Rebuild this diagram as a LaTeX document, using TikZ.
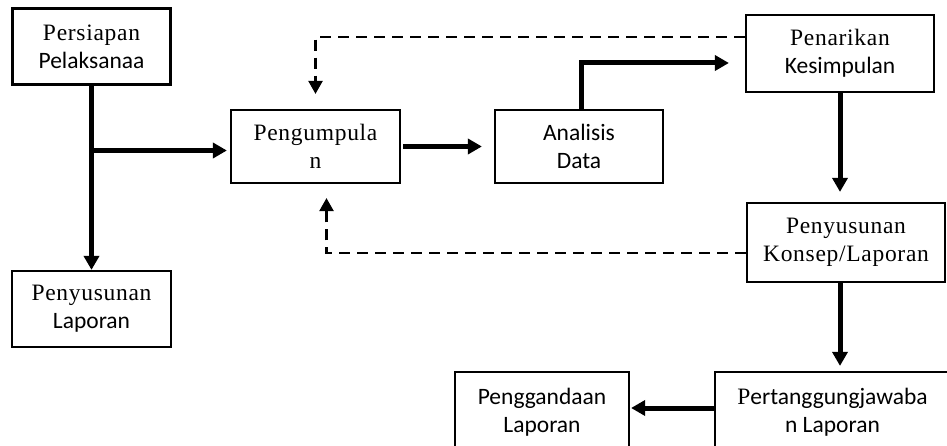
\documentclass[tikz,border=0pt]{standalone}
\usepackage{fontspec}
\usepackage{tikz}
\usetikzlibrary{
  arrows.meta,
  positioning,
  calc
}
\newfontfamily\ser[LetterSpace=3]{Liberation Serif}
\newfontfamily\san{Carlito}
\tikzset{
  kotak/.style={
    draw, line width=2.2pt, align=center, inner sep=0pt,
    font=\fontsize{23.5}{28}\selectfont
  },
  panah/.style={-{Triangle[length=14pt, width=15pt]}, line width=5pt},
  balik/.style={-{Triangle[length=13pt, width=14pt]}, line width=2.4pt,
    dash pattern=on 11pt off 7pt}
}

\begin{document}
\begin{tikzpicture}[x=1pt, y=-1pt]
  \useasboundingbox (0,0) rectangle (947,446);
  \clip (0,0) rectangle (947,446);
  \node[kotak, minimum width=158pt, minimum height=76pt] (persiapan) at (91.5,46.5) {{\ser Persiapan}\\{\san Pelaksanaa}};
  \node[kotak, minimum width=159pt, minimum height=76pt] (penyusunan) at (91.5,309) {{\ser Penyusunan}\\{\san Laporan}};
  \node[kotak, minimum width=169pt, minimum height=73pt] (pengumpulan) at (315.5,146.5) {{\ser Pengumpula}\\{\ser n}};
  \node[kotak, minimum width=168pt, minimum height=73pt] (analisis) at (579,146.5) {{\san Analisis}\\{\san Data}};
  \node[kotak, minimum width=188pt, minimum height=77pt] (penarikan) at (840,53.5) {{\ser Penarikan}\\{\san Kesimpulan}};
  \node[kotak, minimum width=198pt, minimum height=79pt] (konsep) at (846,242.5) {{\ser Penyusunan}\\{\ser Konsep/Laporan}};
  \node[kotak, minimum width=235pt, minimum height=80pt] (tanggung) at (832.5,412) {{\ser P}{\san ertanggungjawaba}\\{\san n Laporan}};
  \node[kotak, minimum width=174pt, minimum height=80pt] (gandakan) at (542,412) {{\san Penggandaan}\\{\san Laporan}};

  \draw[panah] (persiapan.south) -- (penyusunan.north);
  \draw[panah, shorten >=3pt] ([yshift=-4pt]persiapan.south |- pengumpulan.west) -- ([yshift=-4pt]pengumpulan.west);
  \draw[panah, shorten >=12pt, shorten <=2pt] (pengumpulan.east) -- (analisis.west);
  \draw[panah, shorten >=16pt] ([xshift=2pt]analisis.north) |- ([yshift=-9.5pt]penarikan.west);
  \draw[panah, shorten >=10pt] (penarikan.south) -- (penarikan.south |- konsep.north);
  \draw[panah, shorten >=5pt] (penarikan.south |- konsep.south) -- (penarikan.south |- tanggung.north);
  \draw[panah, shorten >=1pt] ([yshift=4pt]tanggung.west) -- ([yshift=4pt]gandakan.east);
  \draw[balik, shorten >=15pt] ([yshift=16.5pt]penarikan.west) -| (pengumpulan.north);
  \draw[balik, shorten >=14pt] ([yshift=-10.5pt]konsep.west) -| ([xshift=11pt]pengumpulan.south);
\end{tikzpicture}
\end{document}
